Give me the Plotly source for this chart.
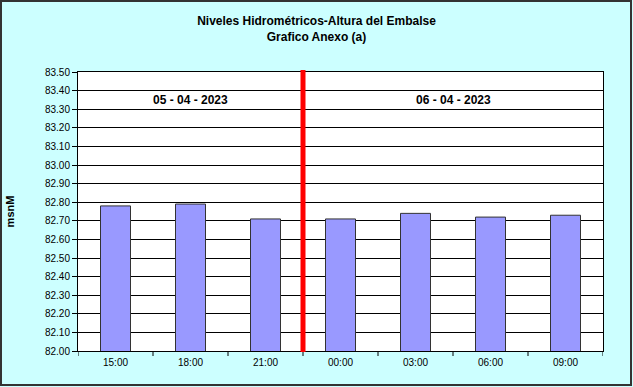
import plotly.graph_objects as go

categories = ["15:00", "18:00", "21:00", "00:00", "03:00", "06:00", "09:00"]
values = [82.78, 82.79, 82.71, 82.71, 82.74, 82.72, 82.73]
day_labels = ["05 - 04 - 2023", "06 - 04 - 2023"]
day_split = 3  # first category of second day
y_ticks = [round(82.0 + 0.1 * i, 2) for i in range(16)]

W, H = 633, 387
L, R, T, B = 78, 30, 72, 36
pw, ph = W - L - R, H - T - B

fig = go.Figure()
fig.add_trace(go.Bar(
    x=list(range(len(categories))), y=values,
    marker=dict(color="#9999FF", line=dict(color="#333333", width=1)),
    width=0.4,
))

font = "Liberation Sans, Arial, sans-serif"
fig.update_layout(
    width=W, height=H,
    margin=dict(l=L, r=R, t=T, b=B, autoexpand=False),
    paper_bgcolor="#CCFFFF",
    plot_bgcolor="white",
    showlegend=False,
    font=dict(family=font, size=10, color="black"),
    title=dict(text="<b>Niveles Hidrométricos-Altura del Embalse<br>Grafico Anexo (a)</b>",
               x=0.5, xanchor="center", y=1 - 25 / H, yanchor="top",
               font=dict(size=12, family=font)),
)
fig.update_xaxes(
    tickmode="array", tickvals=list(range(len(categories))), ticktext=categories,
    range=[-0.5, len(categories) - 0.5],
    ticks="outside", ticklen=2, tickcolor="rgba(0,0,0,0)",
    showline=True, linecolor="black", linewidth=1, mirror=True,
    showgrid=False, zeroline=False, automargin=False,
)
fig.update_yaxes(
    range=[82.0, 83.5], tickmode="array", tickvals=y_ticks,
    ticktext=[f"{v:.2f}" for v in y_ticks],
    ticks="outside", ticklen=5, tickcolor="black",
    showline=True, linecolor="black", linewidth=1, mirror=True,
    showgrid=True, gridcolor="black", gridwidth=1, zeroline=False,
    automargin=False,
    title=dict(text="<b>msnM</b>", font=dict(size=11), standoff=28),
)
shapes = []
for i in range(len(categories) + 1):
    shapes.append(dict(type="line", xref="x", yref="paper", x0=i - 0.5, x1=i - 0.5,
                       y0=0, y1=-5 / ph, line=dict(color="black", width=1)))
# day separator
shapes.append(dict(type="line", xref="x", yref="paper", x0=day_split - 0.5, x1=day_split - 0.5,
                   y0=-1 / ph, y1=1 + 2 / ph, line=dict(color="red", width=5)))
# outer border
shapes.append(dict(type="rect", xref="paper", yref="paper",
                   x0=-(L - 1) / pw, x1=(pw + R - 2) / pw,
                   y0=-(B - 2) / ph, y1=1 + (T - 1) / ph,
                   line=dict(color="#333333", width=2), layer="below"))
fig.update_layout(shapes=shapes)

label_y = 1 - 28 / ph
fig.add_annotation(x=(day_split - 1) / 2, y=label_y, xref="x", yref="paper",
                   text=f"<b>{day_labels[0]}</b>", showarrow=False,
                   font=dict(size=12), yanchor="middle")
fig.add_annotation(x=(day_split + len(categories) - 1) / 2, y=label_y, xref="x", yref="paper",
                   text=f"<b>{day_labels[1]}</b>", showarrow=False,
                   font=dict(size=12), yanchor="middle")

fig.write_html("out.html")
